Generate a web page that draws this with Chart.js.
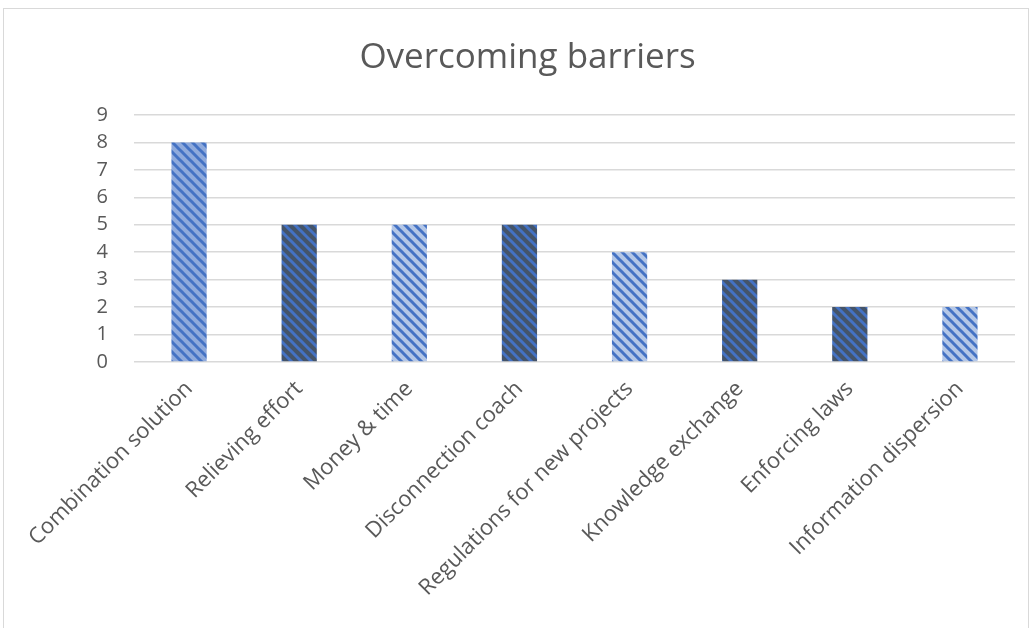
<!DOCTYPE html>
<html>
<head>
<meta charset="utf-8">
<script src="https://cdn.jsdelivr.net/npm/chart.js@4"></script>
<style>
  html, body { margin: 0; padding: 0; background: #fff; }
  #wrap { position: relative; width: 1035px; height: 628px; overflow: hidden; }
  #frame { position: absolute; left: 3px; top: 8px; width: 1026px; height: 640px; border: 1px solid #d9d9d9; box-sizing: border-box; }
  canvas { position: absolute; left: 0; top: 0; }
</style>
</head>
<body>
<div id="wrap">
  <div id="frame"></div>
  <canvas id="chart" width="1035" height="628"></canvas>
</div>
<script>
// chart data
const categories = [
  'Combination solution',
  'Relieving effort',
  'Money & time',
  'Disconnection coach',
  'Regulations for new projects',
  'Knowledge exchange',
  'Enforcing laws',
  'Information dispersion'
];
const counts = [8, 5, 5, 5, 4, 3, 2, 2];
const yTicks = [0, 1, 2, 3, 4, 5, 6, 7, 8, 9];

// bar shading (style only)
const shades = ['medium', 'dark', 'light', 'dark', 'light', 'dark', 'dark', 'light'];
const shadeColors = { medium: '#8faadc', dark: '#44546a', light: '#b4c7e7' };
const stripeColor = '#4472c4';

const makeStripes = (bg) => {
  const s = 10;
  const tile = document.createElement('canvas');
  tile.width = s;
  tile.height = s;
  const c = tile.getContext('2d');
  c.fillStyle = bg;
  c.fillRect(0, 0, s, s);
  c.strokeStyle = stripeColor;
  c.lineWidth = 3;
  for (let k = -1; k <= 1; k++) {
    c.beginPath();
    c.moveTo(k * s - 2, -2);
    c.lineTo(k * s + s + 2, s + 2);
    c.stroke();
  }
  return c.createPattern(tile, 'repeat');
};

const patterns = {};
Object.keys(shadeColors).forEach((k) => { patterns[k] = makeStripes(shadeColors[k]); });

const textColor = '#595959';
const fontFamily = '"Open Sans", "Liberation Sans", sans-serif';

const ctx = document.getElementById('chart').getContext('2d');
new Chart(ctx, {
  type: 'bar',
  data: {
    labels: categories,
    datasets: [
      {
        label: 'Overcoming barriers',
        data: counts,
        backgroundColor: shades.map((s) => patterns[s]),
        borderWidth: 0,
        categoryPercentage: 1,
        barPercentage: 0.32,
      },
    ],
  },
  options: {
    responsive: false,
    animation: false,
    layout: { padding: { left: 40, right: 20, top: 37, bottom: 0 } },
    plugins: {
      legend: { display: false },
      tooltip: { enabled: false },
      title: {
        display: true,
        text: 'Overcoming barriers',
        color: textColor,
        font: { family: fontFamily, size: 35, weight: 'normal' },
        padding: { top: 0, bottom: 36 },
      },
    },
    scales: {
      x: {
        grid: { display: false },
        border: { display: false },
        ticks: {
          color: textColor,
          font: { family: fontFamily, size: 22 },
          minRotation: 45,
          maxRotation: 45,
          padding: 6,
          autoSkip: false,
        },
        afterFit: (scale) => { scale.height = 628 - 362; },
      },
      y: {
        min: 0,
        max: 9,
        afterBuildTicks: (scale) => { scale.ticks = yTicks.map((v) => ({ value: v })); },
        grid: { color: '#d9d9d9', lineWidth: 1.5, drawTicks: false },
        border: { display: false },
        ticks: {
          color: textColor,
          font: { family: fontFamily, size: 20 },
          padding: 26,
        },
        afterFit: (scale) => { scale.width = 94; },
      },
    },
  },
});
</script>
</body>
</html>
